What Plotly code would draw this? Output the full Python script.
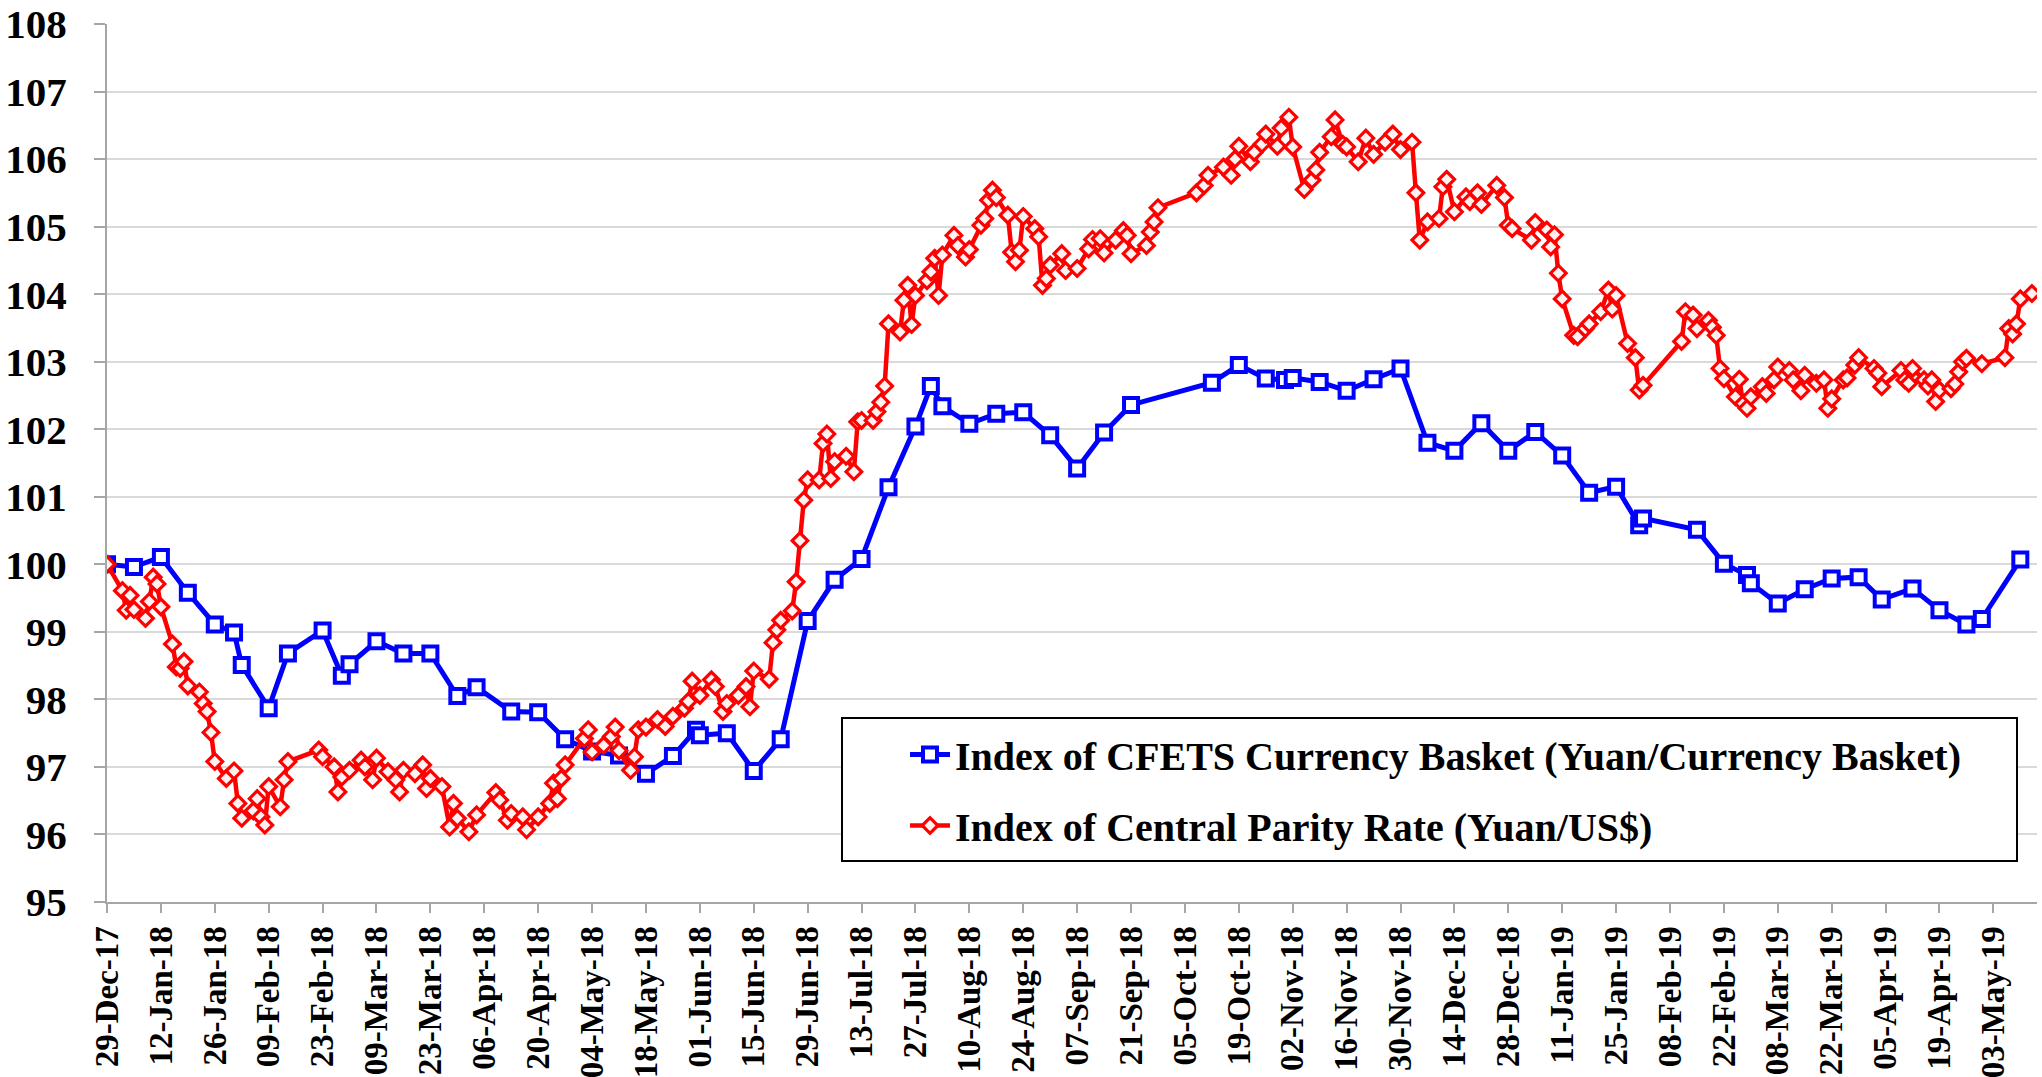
import plotly.graph_objects as go

# ---------------- data ----------------
cfets_dates = [
    "2017-12-29", "2018-01-05", "2018-01-12", "2018-01-19", "2018-01-26", "2018-01-31",
    "2018-02-02", "2018-02-09", "2018-02-14", "2018-02-23", "2018-02-28", "2018-03-02",
    "2018-03-09", "2018-03-16", "2018-03-23", "2018-03-30", "2018-04-04", "2018-04-13",
    "2018-04-20", "2018-04-27", "2018-05-04", "2018-05-11", "2018-05-18", "2018-05-25",
    "2018-05-31", "2018-06-01", "2018-06-08", "2018-06-15", "2018-06-22", "2018-06-29",
    "2018-07-06", "2018-07-13", "2018-07-20", "2018-07-27", "2018-07-31", "2018-08-03",
    "2018-08-10", "2018-08-17", "2018-08-24", "2018-08-31", "2018-09-07", "2018-09-14",
    "2018-09-21", "2018-10-12", "2018-10-19", "2018-10-26", "2018-10-31", "2018-11-02",
    "2018-11-09", "2018-11-16", "2018-11-23", "2018-11-30", "2018-12-07", "2018-12-14",
    "2018-12-21", "2018-12-28", "2019-01-04", "2019-01-11", "2019-01-18", "2019-01-25",
    "2019-01-31", "2019-02-01", "2019-02-15", "2019-02-22", "2019-02-28", "2019-03-01",
    "2019-03-08", "2019-03-15", "2019-03-22", "2019-03-29", "2019-04-04", "2019-04-12",
    "2019-04-19", "2019-04-26", "2019-04-30", "2019-05-10",
]
cfets_values = [
    100.00, 99.96, 100.11, 99.58, 99.11, 98.99,
    98.51, 97.87, 98.68, 99.02, 98.35, 98.52,
    98.86, 98.68, 98.68, 98.05, 98.18, 97.82,
    97.81, 97.41, 97.23, 97.17, 96.90, 97.16,
    97.55, 97.47, 97.50, 96.94, 97.41, 99.16,
    99.77, 100.08, 101.14, 102.04, 102.64, 102.34,
    102.08, 102.23, 102.25, 101.91, 101.42, 101.95,
    102.36, 102.69, 102.95, 102.75, 102.73, 102.76,
    102.70, 102.57, 102.74, 102.90, 101.80, 101.68,
    102.09, 101.68, 101.96, 101.61, 101.06, 101.15,
    100.58, 100.68, 100.51, 100.01, 99.84, 99.72,
    99.42, 99.63, 99.79, 99.81, 99.48, 99.64,
    99.32, 99.11, 99.19, 100.07,
]

parity_dates = [
    "2017-12-29", "2018-01-02", "2018-01-03", "2018-01-04", "2018-01-05", "2018-01-08",
    "2018-01-09", "2018-01-10", "2018-01-11", "2018-01-12", "2018-01-15", "2018-01-16",
    "2018-01-17", "2018-01-18", "2018-01-19", "2018-01-22", "2018-01-23", "2018-01-24",
    "2018-01-25", "2018-01-26", "2018-01-29", "2018-01-31", "2018-02-01", "2018-02-02",
    "2018-02-05", "2018-02-06", "2018-02-07", "2018-02-08", "2018-02-09", "2018-02-12",
    "2018-02-13", "2018-02-14", "2018-02-22", "2018-02-23", "2018-02-26", "2018-02-27",
    "2018-02-28", "2018-03-02", "2018-03-05", "2018-03-06", "2018-03-08", "2018-03-09",
    "2018-03-12", "2018-03-14", "2018-03-15", "2018-03-16", "2018-03-19", "2018-03-21",
    "2018-03-22", "2018-03-23", "2018-03-26", "2018-03-28", "2018-03-29", "2018-03-30",
    "2018-04-02", "2018-04-04", "2018-04-09", "2018-04-10", "2018-04-12", "2018-04-13",
    "2018-04-16", "2018-04-17", "2018-04-20", "2018-04-23", "2018-04-24", "2018-04-25",
    "2018-04-26", "2018-04-27", "2018-05-02", "2018-05-03", "2018-05-04", "2018-05-07",
    "2018-05-09", "2018-05-10", "2018-05-11", "2018-05-14", "2018-05-15", "2018-05-16",
    "2018-05-18", "2018-05-21", "2018-05-23", "2018-05-25", "2018-05-28", "2018-05-29",
    "2018-05-30", "2018-06-01", "2018-06-04", "2018-06-05", "2018-06-07", "2018-06-08",
    "2018-06-11", "2018-06-13", "2018-06-14", "2018-06-15", "2018-06-19", "2018-06-20",
    "2018-06-21", "2018-06-22", "2018-06-25", "2018-06-26", "2018-06-27", "2018-06-28",
    "2018-06-29", "2018-07-02", "2018-07-03", "2018-07-04", "2018-07-05", "2018-07-06",
    "2018-07-09", "2018-07-11", "2018-07-12", "2018-07-13", "2018-07-16", "2018-07-17",
    "2018-07-18", "2018-07-19", "2018-07-20", "2018-07-23", "2018-07-24", "2018-07-25",
    "2018-07-26", "2018-07-27", "2018-07-30", "2018-07-31", "2018-08-01", "2018-08-02",
    "2018-08-03", "2018-08-06", "2018-08-07", "2018-08-09", "2018-08-10", "2018-08-13",
    "2018-08-14", "2018-08-15", "2018-08-16", "2018-08-17", "2018-08-20", "2018-08-21",
    "2018-08-22", "2018-08-23", "2018-08-24", "2018-08-27", "2018-08-28", "2018-08-29",
    "2018-08-30", "2018-08-31", "2018-09-03", "2018-09-04", "2018-09-07", "2018-09-10",
    "2018-09-11", "2018-09-13", "2018-09-14", "2018-09-17", "2018-09-19", "2018-09-20",
    "2018-09-21", "2018-09-25", "2018-09-26", "2018-09-27", "2018-09-28", "2018-10-08",
    "2018-10-10", "2018-10-11", "2018-10-15", "2018-10-17", "2018-10-18", "2018-10-19",
    "2018-10-22", "2018-10-23", "2018-10-25", "2018-10-26", "2018-10-29", "2018-10-30",
    "2018-11-01", "2018-11-02", "2018-11-05", "2018-11-07", "2018-11-08", "2018-11-09",
    "2018-11-12", "2018-11-13", "2018-11-15", "2018-11-16", "2018-11-19", "2018-11-21",
    "2018-11-23", "2018-11-26", "2018-11-28", "2018-11-30", "2018-12-03", "2018-12-04",
    "2018-12-05", "2018-12-07", "2018-12-10", "2018-12-11", "2018-12-12", "2018-12-14",
    "2018-12-17", "2018-12-18", "2018-12-20", "2018-12-21", "2018-12-25", "2018-12-27",
    "2018-12-28", "2018-12-29", "2019-01-03", "2019-01-04", "2019-01-07", "2019-01-08",
    "2019-01-09", "2019-01-10", "2019-01-11", "2019-01-14", "2019-01-15", "2019-01-17",
    "2019-01-18", "2019-01-21", "2019-01-23", "2019-01-24", "2019-01-25", "2019-01-28",
    "2019-01-30", "2019-01-31", "2019-02-01", "2019-02-11", "2019-02-12", "2019-02-14",
    "2019-02-15", "2019-02-18", "2019-02-19", "2019-02-20", "2019-02-21", "2019-02-22",
    "2019-02-25", "2019-02-26", "2019-02-27", "2019-02-28", "2019-03-01", "2019-03-04",
    "2019-03-05", "2019-03-07", "2019-03-08", "2019-03-11", "2019-03-12", "2019-03-14",
    "2019-03-15", "2019-03-18", "2019-03-20", "2019-03-21", "2019-03-22", "2019-03-25",
    "2019-03-26", "2019-03-28", "2019-03-29", "2019-04-02", "2019-04-03", "2019-04-04",
    "2019-04-09", "2019-04-10", "2019-04-11", "2019-04-12", "2019-04-15", "2019-04-16",
    "2019-04-17", "2019-04-18", "2019-04-19", "2019-04-22", "2019-04-23", "2019-04-24",
    "2019-04-25", "2019-04-26", "2019-04-30", "2019-05-06", "2019-05-07", "2019-05-08",
    "2019-05-09", "2019-05-10", "2019-05-13",
]
parity_values = [
    100.00, 99.61, 99.32, 99.54, 99.33, 99.20,
    99.45, 99.81, 99.71, 99.37, 98.82, 98.48,
    98.46, 98.56, 98.20, 98.11, 97.94, 97.82,
    97.51, 97.08, 96.83, 96.94, 96.46, 96.24,
    96.35, 96.53, 96.26, 96.14, 96.71, 96.41,
    96.81, 97.08, 97.25, 97.15, 97.00, 96.63,
    96.85, 96.95, 97.10, 97.00, 96.81, 97.13,
    96.93, 96.81, 96.63, 96.95, 96.90, 97.03,
    96.68, 96.83, 96.71, 96.11, 96.46, 96.24,
    96.04, 96.29, 96.62, 96.51, 96.21, 96.31,
    96.26, 96.07, 96.26, 96.46, 96.76, 96.53,
    96.83, 97.03, 97.42, 97.55, 97.22, 97.32,
    97.45, 97.59, 97.24, 96.95, 97.15, 97.55,
    97.59, 97.70, 97.60, 97.75, 97.87, 97.97,
    98.27, 98.06, 98.29, 98.19, 97.82, 97.94,
    98.06, 98.19, 97.89, 98.42, 98.30, 98.84,
    99.03, 99.17, 99.31, 99.74, 100.35, 100.95,
    101.25, 101.25, 101.79, 101.93, 101.27, 101.52,
    101.60, 101.37, 102.11, 102.13, 102.13, 102.26,
    102.40, 102.64, 103.56, 103.44, 103.91, 104.13,
    103.55, 103.98, 104.20, 104.33, 104.53, 103.98,
    104.58, 104.87, 104.72, 104.55, 104.66, 105.02,
    105.12, 105.39, 105.54, 105.43, 105.17, 104.62,
    104.48, 104.65, 105.15, 104.97, 104.85, 104.13,
    104.23, 104.43, 104.60, 104.35, 104.38, 104.67,
    104.81, 104.82, 104.61, 104.80, 104.94, 104.87,
    104.60, 104.72, 104.92, 105.07, 105.28, 105.50,
    105.61, 105.76, 105.88, 105.76, 106.00, 106.19,
    105.96, 106.10, 106.22, 106.37, 106.19, 106.46,
    106.62, 106.18, 105.55, 105.69, 105.84, 106.10,
    106.33, 106.58, 106.22, 106.18, 105.96, 106.31,
    106.07, 106.25, 106.37, 106.14, 106.25, 105.50,
    104.80, 105.07, 105.12, 105.59, 105.70, 105.22,
    105.44, 105.37, 105.50, 105.33, 105.61, 105.43,
    105.02, 104.97, 104.80, 105.06, 104.95, 104.70,
    104.88, 104.31, 103.93, 103.39, 103.37, 103.49,
    103.56, 103.74, 104.06, 103.78, 103.98, 103.27,
    103.06, 102.58, 102.65, 103.30, 103.74, 103.69,
    103.49, 103.61, 103.51, 103.39, 102.90, 102.75,
    102.48, 102.74, 102.38, 102.31, 102.48, 102.63,
    102.53, 102.73, 102.92, 102.87, 102.73, 102.57,
    102.80, 102.68, 102.73, 102.31, 102.45, 102.73,
    102.76, 102.95, 103.06, 102.90, 102.83, 102.63,
    102.87, 102.73, 102.68, 102.90, 102.73, 102.64,
    102.73, 102.41, 102.58, 102.60, 102.67, 102.85,
    103.00, 103.05, 102.97, 103.06, 103.49, 103.41,
    103.56, 103.93, 104.01,
]

series_names = [
    "Index of CFETS Currency Basket (Yuan/Currency Basket)",
    "Index of Central Parity Rate (Yuan/US$)",
]

x_start = "2017-12-29"
x_end = "2019-05-14 08:00"
tick_step_days = 14
y_min, y_max = 95, 108

# ---------------- figure ----------------
FONT = "Liberation Serif, Times New Roman, serif"
W, H = 2042, 1077
ML, MR, MT, MB = 107, 5, 24, 175
pw, ph = W - ML - MR, H - MT - MB


def px_x(p):
    return (p - ML) / pw


def px_y(p):
    return (H - MB - p) / ph


fig = go.Figure()
fig.add_trace(go.Scatter(
    x=cfets_dates, y=cfets_values, name=series_names[0],
    mode="lines+markers", legendgroup="a",
    line=dict(color="#0000ff", width=5),
    marker=dict(symbol="square", size=14, color="#ffffff",
                line=dict(color="#0000ff", width=4)),
))
fig.add_trace(go.Scatter(
    x=parity_dates, y=parity_values, name=series_names[1],
    mode="lines+markers", legendgroup="b",
    line=dict(color="#ff0000", width=4.5),
    marker=dict(symbol="diamond", size=12, color="#fdf1f1",
                line=dict(color="#ff0000", width=3.2)),
))

# legend frame
fig.add_shape(type="rect", xref="paper", yref="paper",
              x0=px_x(842), x1=px_x(2017), y0=px_y(861), y1=px_y(718),
              line=dict(color="#000000", width=2), fillcolor="#ffffff",
              layer="above")

fig.update_layout(
    width=W, height=H,
    margin=dict(l=ML, r=MR, t=MT, b=MB, autoexpand=False),
    paper_bgcolor="#ffffff", plot_bgcolor="#ffffff",
    font=dict(family=FONT, color="#000000"),
    showlegend=True,
    legend=dict(
        x=px_x(905), y=px_y(722), xanchor="left", yanchor="top",
        bgcolor="rgba(0,0,0,0)", borderwidth=0,
        traceorder="grouped", tracegroupgap=16,
        font=dict(family=FONT, size=40, color="#000000", weight="bold"),
        itemwidth=40,
    ),
    xaxis=dict(
        type="date", range=[x_start, x_end],
        tick0=x_start, dtick=tick_step_days * 86400000,
        tickformat="%d-%b-%y", tickangle=-90,
        tickfont=dict(family=FONT, size=33, color="#000000", weight="bold"),
        ticks="outside", ticklen=9, tickwidth=1.5, tickcolor="#a6a6a6",
        showline=True, linecolor="#a6a6a6", linewidth=2,
        showgrid=False, zeroline=False, automargin=False,
    ),
    yaxis=dict(
        range=[y_min, y_max], dtick=1,
        tickfont=dict(family=FONT, size=41, color="#000000", weight="bold"),
        ticks="outside", ticklen=11, tickwidth=1.5, tickcolor="#a6a6a6",
        showline=True, linecolor="#a6a6a6", linewidth=2,
        showgrid=True, gridcolor="#d9d9d9", gridwidth=1.5,
        zeroline=False, automargin=False, ticklabelstandoff=19,
    ),
)

fig.write_html(
    "out.html",
    config={"displayModeBar": False},
    post_script="document.body.style.margin='0px';document.body.style.overflow='hidden';",
)
